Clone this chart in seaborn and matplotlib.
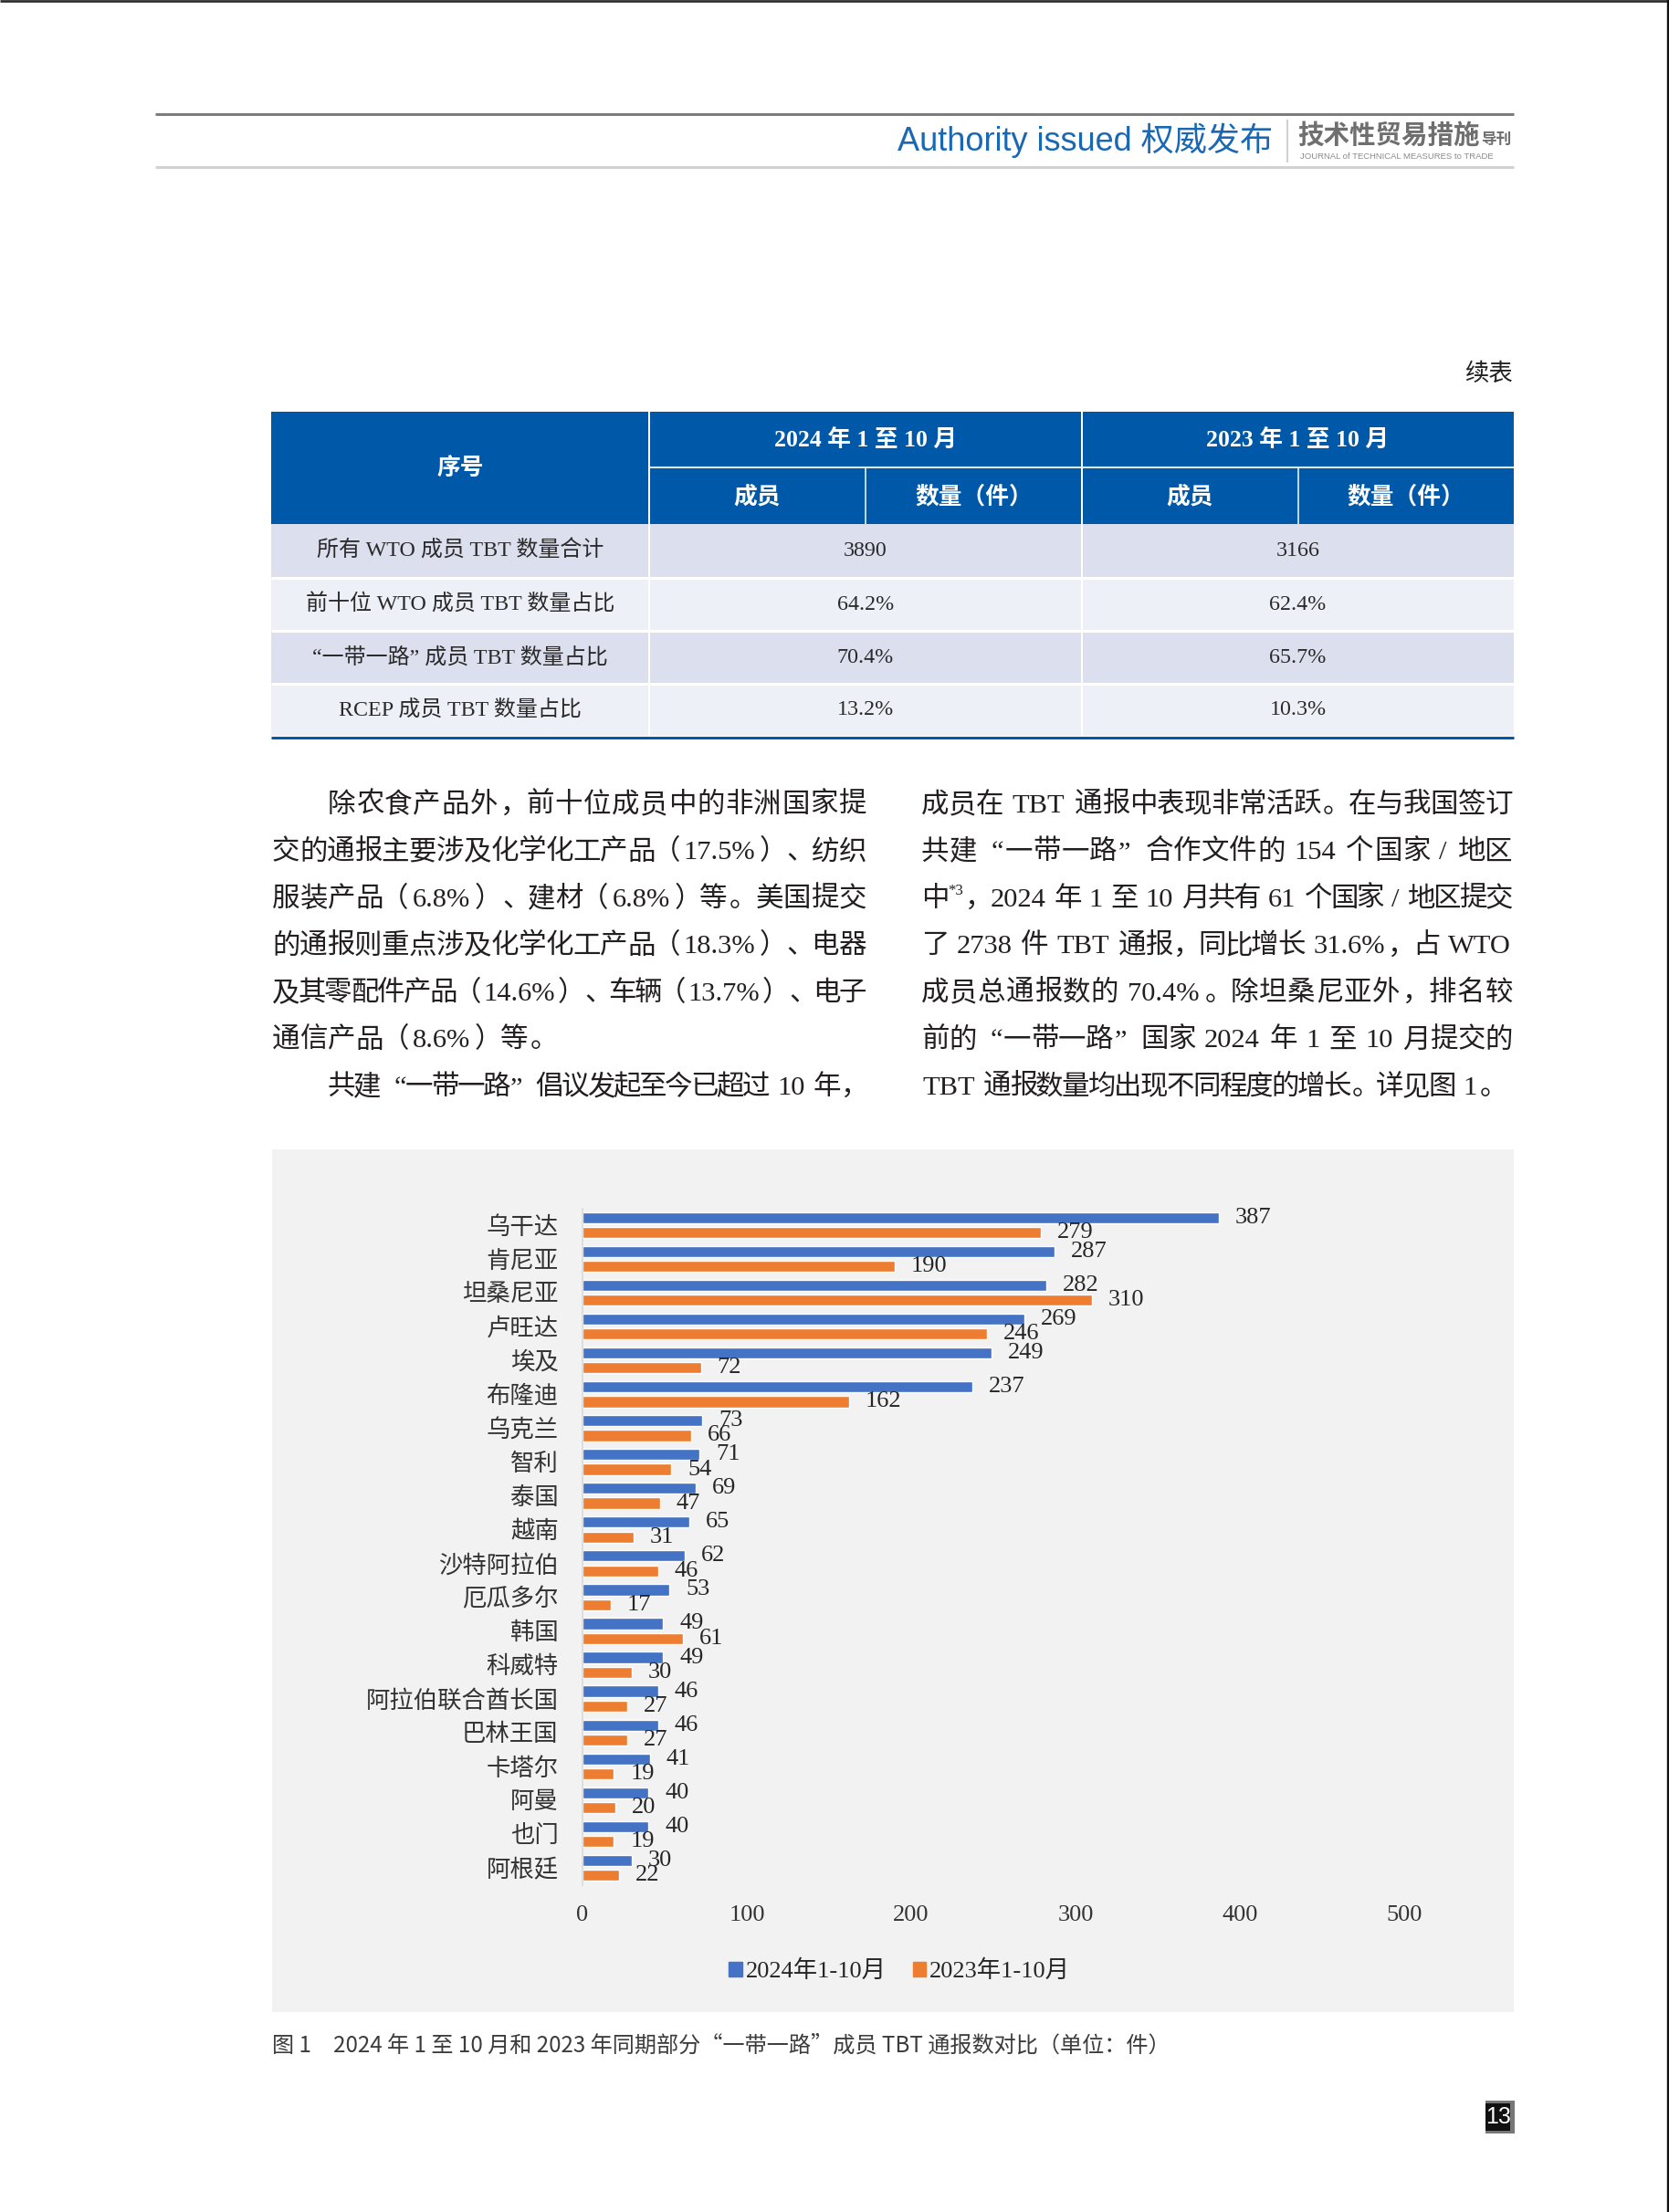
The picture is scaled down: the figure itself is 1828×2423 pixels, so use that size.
import re
import pandas as pd
import matplotlib
matplotlib.use("Agg")
import matplotlib.pyplot as plt
from matplotlib.patches import Rectangle, Patch
import seaborn as sns

W, H = 1828, 2423

# ---- chart data (图 1) ----
countries = ["乌干达", "肯尼亚", "坦桑尼亚", "卢旺达", "埃及", "布隆迪", "乌克兰", "智利",
             "泰国", "越南", "沙特阿拉伯", "厄瓜多尔", "韩国", "科威特", "阿拉伯联合酋长国",
             "巴林王国", "卡塔尔", "阿曼", "也门", "阿根廷"]
v2024 = [387, 287, 282, 269, 249, 237, 73, 71, 69, 65, 62, 53, 49, 49, 46, 46, 41, 40, 40, 30]
v2023 = [279, 190, 310, 246, 72, 162, 66, 54, 47, 31, 46, 17, 61, 30, 27, 27, 19, 20, 19, 22]
series_names = ["2024年1-10月", "2023年1-10月"]
x_ticks = [0, 100, 200, 300, 400, 500]

# ---- table data (续表) ----
head_periods = ["2024 年 1 至 10 月", "2023 年 1 至 10 月"]
head_sub = ["成员", "数量（件）"]
table_rows = ["所有 WTO 成员 TBT 数量合计", "前十位 WTO 成员 TBT 数量占比",
              "“一带一路” 成员 TBT 数量占比", "RCEP 成员 TBT 数量占比"]
table_2024 = ["3890", "64.2%", "70.4%", "13.2%"]
table_2023 = ["3166", "62.4%", "65.7%", "10.3%"]

# ---- body text ----
left_lines = [
    "除农食产品外，前十位成员中的非洲国家提",
    "交的通报主要涉及化学化工产品（17.5%）、纺织",
    "服装产品（6.8%）、建材（6.8%）等。美国提交",
    "的通报则重点涉及化学化工产品（18.3%）、电器",
    "及其零配件产品（14.6%）、车辆（13.7%）、电子",
    "通信产品（8.6%）等。",
    "共建“一带一路”倡议发起至今已超过 10 年，",
]
left_indent = [True, False, False, False, False, False, True]
left_justify = [True, True, True, True, True, False, True]
right_lines = [
    "成员在 TBT 通报中表现非常活跃。在与我国签订",
    "共建“一带一路”合作文件的 154 个国家 / 地区",
    "中{*3}，2024 年 1 至 10 月共有 61 个国家 / 地区提交",
    "了 2738 件 TBT 通报，同比增长 31.6%，占 WTO",
    "成员总通报数的 70.4%。除坦桑尼亚外，排名较",
    "前的“一带一路”国家 2024 年 1 至 10 月提交的",
    "TBT 通报数量均出现不同程度的增长。详见图 1。",
]
right_end = [1657, 1657, 1657, 1657, 1657, 1657, 1649]
caption = "图 1　2024 年 1 至 10 月和 2023 年同期部分“一带一路”成员 TBT 通报数对比（单位：件）"

BLUE = "#4472C4"
ORANGE = "#ED7D31"
HEAD_BLUE = "#0059A8"
INK = "#231f20"
SERIF = ["Liberation Serif", "Noto Sans CJK SC"]
SANS = ["Liberation Sans", "Noto Sans CJK SC"]
CJK = ["Noto Sans CJK SC", "DejaVu Sans"]

sns.set_theme(style="white")
plt.rcParams["font.family"] = SERIF

fig = plt.figure(figsize=(W / 100, H / 100), dpi=100, facecolor="white")
page = fig.add_axes([0, 0, 1, 1])
page.set_xlim(0, W)
page.set_ylim(H, 0)
page.axis("off")


def hline(x0, x1, y, color, px):
    page.plot([x0, x1], [y, y], color=color, lw=px * 0.72, solid_capstyle="butt")


def vline(x, y0, y1, color, px):
    page.plot([x, x], [y0, y1], color=color, lw=px * 0.72, solid_capstyle="butt")


# page border + running header
hline(0, W, 1.3, "#2b2b2b", 2.7)
vline(1826.8, 0, H, "#111111", 2.4)
hline(170, 1658, 124.5, "#7d7d7d", 3)
hline(170, 1658, 183, "#d2d2d2", 3)
vline(1410, 131, 178, "#d0d0d0", 2)
page.text(983, 154, "Authority issued 权威发布", ha="left", va="center", fontsize=26,
          family=SANS, color="#1a68b3")
page.text(1421, 149, "技术性贸易措施", ha="left", va="center", fontsize=20.5,
          family=CJK, weight="heavy", color="#6f6f6f")
page.text(1622, 153, "导刊", ha="left", va="center", fontsize=12, family=CJK,
          weight="bold", color="#6f6f6f")
page.text(1424, 172, "JOURNAL of TECHNICAL MEASURES to TRADE", ha="left", va="center",
          fontsize=6.8, family=SANS, color="#8a8a8a")

# ---- table ----
page.text(1657, 409, "续表", ha="right", va="center", fontsize=19, family=CJK,
          weight="medium", color="#222222")
tx = [297, 711, 948, 1185, 1422, 1658]
rows_y = [574, 633, 691, 749, 806]
page.add_patch(Rectangle((297, 451), 1361, 123, color=HEAD_BLUE, lw=0))
for i in range(4):
    page.add_patch(Rectangle((297, rows_y[i]), 1361, rows_y[i + 1] - rows_y[i],
                             color=["#DCDFEE", "#EEF0F8"][i % 2], lw=0))
for y in rows_y[1:-1]:
    hline(297, 1658, y, "white", 3)
vline(711, 451, 806, "white", 2)
vline(1185, 451, 806, "white", 2)
vline(948, 512, 574, "white", 1.5)
vline(1422, 512, 574, "white", 1.5)
hline(711, 1658, 512, "#e3ebf5", 2)
hline(297, 1658, 807.5, HEAD_BLUE, 3)

hkw = dict(ha="center", va="center", fontsize=18.5, family=SERIF, weight="bold", color="white")
page.text(504, 513, "序号", **hkw)
for k, period in enumerate(head_periods):
    page.text((tx[1 + 2 * k] + tx[3 + 2 * k]) / 2, 483, period, **hkw)
    for j, sub in enumerate(head_sub):
        page.text((tx[1 + 2 * k + j] + tx[2 + 2 * k + j]) / 2, 544, sub, **hkw)
bkw = dict(ha="center", va="center", fontsize=17.3, family=SERIF, color="#2a2a2a")
for i in range(4):
    yc = (rows_y[i] + rows_y[i + 1]) / 2
    page.text(504, yc, table_rows[i], **bkw)
    page.text(948, yc, table_2024[i], **bkw)
    page.text(1421.5, yc, table_2023[i], **bkw)

# ---- justified body text ----
EM = 30.5
BODY_PT = EM * 0.72
CJK_ALIGN = {"，": ("left", 0.08), "。": ("left", 0.08), "、": ("left", 0.1),
             "（": ("right", 0.92), "）": ("left", 0.08), "：": ("left", 0.15),
             "“": ("right", 0.95), "”": ("left", 0.05)}
renderer = fig.canvas.get_renderer()


def body_line(s, x0, x1, yc, justify=True):
    base = yc + 0.36 * EM
    toks = []
    gap = 0
    for p in re.findall(r"\{[^}]*\}|[A-Za-z0-9.%/]+|\s|\S", s):
        if p.isspace():
            gap += 0.28 * EM
            continue
        if p.startswith("{"):
            t = page.text(0, base - 0.42 * EM, p[1:-1], fontsize=BODY_PT * 0.55,
                          family=SERIF, color=INK, va="baseline")
            toks.append([t, "lat", t.get_window_extent(renderer).width + 0.08 * EM, gap])
        elif ord(p[0]) >= 0x2E80 or p in "“”":
            toks.append([p, "cjk", EM, gap])
        else:
            t = page.text(0, base, p, fontsize=BODY_PT, family=SERIF, color=INK, va="baseline")
            toks.append([t, "lat", t.get_window_extent(renderer).width + 0.12 * EM, gap])
        gap = 0
    natural = sum(w + g for _, _, w, g in toks)
    extra = (x1 - x0 - natural) / (len(toks) - 1) if justify else 0
    x = x0
    for i, (obj, kind, w, g) in enumerate(toks):
        x += g + (extra if i else 0)
        if kind == "lat":
            obj.set_x(x + 0.04 * EM)
        else:
            ha, dx = CJK_ALIGN.get(obj, ("center", 0.5))
            page.text(x + dx * EM, base, obj, ha=ha, va="baseline", fontsize=BODY_PT,
                      family=SERIF, color=INK)
        x += w


for i, line in enumerate(left_lines):
    x0 = 298 + (2 * EM if left_indent[i] else 0)
    body_line(line, x0, 949, 879 + 51.5 * i, left_justify[i])
for i, line in enumerate(right_lines):
    body_line(line, 1009, right_end[i], 879 + 51.5 * i, True)

# ---- chart ----
page.add_patch(Rectangle((298, 1259), 1360, 945, color="#F2F2F2", lw=0))
df = pd.DataFrame({
    "country": countries * 2,
    "value": v2024 + v2023,
    "series": [series_names[0]] * len(countries) + [series_names[1]] * len(countries),
})
ax = fig.add_axes([638 / W, 1 - 2064.5 / H, 900 / W, 741 / H], facecolor="none")
sns.barplot(data=df, x="value", y="country", hue="series", orient="h",
            palette=[BLUE, ORANGE], saturation=1, width=0.88, gap=0.25,
            legend=False, ax=ax)
ax.set_xlim(0, 500)
ax.set_ylim(len(countries) - 0.5, -0.5)
ax.set_xlabel("")
ax.set_ylabel("")
for cont in ax.containers:
    ax.bar_label(cont, fmt="%d", padding=13, fontsize=19, family=SERIF, color="#262626")

ax.set_xticks(x_ticks)
ax.set_xticklabels([str(t) for t in x_ticks])
ax.tick_params(axis="x", length=0, pad=16, labelsize=19, labelcolor="#333333")
ax.tick_params(axis="y", length=0, pad=19, labelsize=19, labelcolor="#333333")
for lbl in ax.get_xticklabels() + ax.get_yticklabels():
    lbl.set_family(SERIF)
ax.grid(False)
for s in ["top", "right", "bottom"]:
    ax.spines[s].set_visible(False)
ax.spines["left"].set_color("#D9D9D9")
ax.spines["left"].set_linewidth(1.2)

handles = [Patch(color=BLUE), Patch(color=ORANGE)]
ax.legend(handles, series_names, loc="center", bbox_to_anchor=(985 / W, 1 - 2159 / H),
          bbox_transform=fig.transFigure, ncol=2, frameon=False, handlelength=0.55,
          handleheight=0.55, handletextpad=0.15, columnspacing=1.1,
          prop={"family": SERIF, "size": 19}, labelcolor="#262626")

# caption + page number
page.text(298, 2241, caption, ha="left", va="center", fontsize=17.4, family=CJK,
          color="#3c3c3c")
page.add_patch(Rectangle((1627, 2301), 32, 36, color="#777777", lw=0))
page.add_patch(Rectangle((1627, 2304), 27, 30, color="#111111", lw=0))
page.text(1641, 2319, "13", ha="center", va="center", fontsize=18, family=SANS, color="white")

fig.savefig("out.png", dpi=100, facecolor="white")
